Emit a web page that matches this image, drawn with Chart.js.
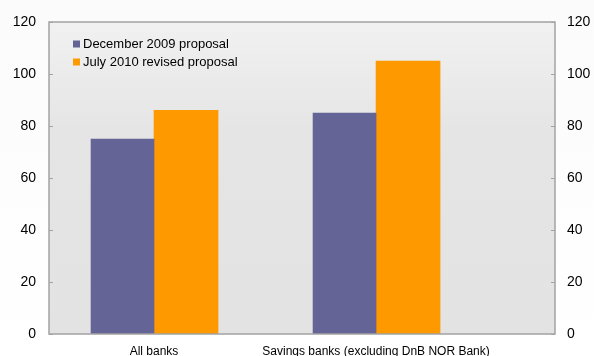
<!DOCTYPE html>
<html>
<head>
<meta charset="utf-8">
<script src="https://cdn.jsdelivr.net/npm/chart.js@4/dist/chart.umd.min.js"></script>
<style>
  html, body { margin: 0; padding: 0; background: #fafafa; }
  #wrap { width: 594px; height: 356px; position: relative; }
</style>
</head>
<body>
<div id="wrap"><canvas id="chart"></canvas></div>
<script>
// --- Data ---
const categories = ['All banks', 'Savings banks (excluding DnB NOR Bank)'];
const categoryPos = [1, 2];
const seriesNames = ['December 2009 proposal', 'July 2010 revised proposal'];
const dec2009 = [75, 85];
const jul2010 = [86, 105];
const yTicks = [0, 20, 40, 60, 80, 100, 120];

const PURPLE = '#646496';
const ORANGE = '#ff9900';
const FRAME = '#a3a3a3';

Chart.defaults.font.family = '"Liberation Sans", Arial, sans-serif';

// background, plot gradient, frame, inward tick marks and the in-plot legend
const framePlugin = {
    id: 'frame',
    beforeDraw(chart) {
        const { ctx, chartArea: a, width, height } = chart;
        ctx.save();
        const bg = ctx.createLinearGradient(0, 0, 0, height);
        bg.addColorStop(0, '#fbfbfb');
        bg.addColorStop(1, '#ffffff');
        ctx.fillStyle = bg;
        ctx.fillRect(0, 0, width, height);
        const pg = ctx.createLinearGradient(0, a.top, 0, a.bottom);
        pg.addColorStop(0, '#f1f1f1');
        pg.addColorStop(0.35, '#e5e5e5');
        pg.addColorStop(1, '#e3e3e3');
        ctx.fillStyle = pg;
        ctx.fillRect(a.left, a.top, a.right - a.left, a.bottom - a.top);
        ctx.restore();
    },
    afterDatasetsDraw(chart) {
        const { ctx, chartArea: a } = chart;
        const y = chart.scales.y;
        ctx.save();
        ctx.strokeStyle = FRAME;
        ctx.lineWidth = 1.5;
        ctx.strokeRect(a.left, a.top, a.right - a.left, a.bottom - a.top);
        ctx.lineWidth = 1;
        yTicks.forEach(v => {
            const py = Math.round(y.getPixelForValue(v)) + 0.5;
            ctx.beginPath();
            ctx.moveTo(a.left, py); ctx.lineTo(a.left + 4, py);
            ctx.moveTo(a.right - 4, py); ctx.lineTo(a.right, py);
            ctx.stroke();
        });
        // legend
        ctx.font = '13px "Liberation Sans", Arial, sans-serif';
        ctx.textBaseline = 'middle';
        chart.data.datasets.forEach((ds, i) => {
            const cy = a.top + 22 + i * 18;
            ctx.fillStyle = ds.backgroundColor;
            ctx.fillRect(a.left + 24, cy - 3.5, 7, 7);
            ctx.fillStyle = '#000';
            ctx.fillText(ds.label, a.left + 34, cy);
        });
        ctx.restore();
    }
};

const yAxis = (pos, width, pad) => ({
    type: 'linear',
    position: pos,
    min: 0, max: 120,
    afterBuildTicks: s => { s.ticks = yTicks.map(v => ({ value: v })); },
    afterFit: s => { s.width = width; },
    grid: { display: false },
    border: { display: false },
    ticks: { padding: pad, color: '#000', font: { size: 14 } }
});

new Chart(document.getElementById('chart'), {
    type: 'bar',
    data: {
        datasets: [
            { label: seriesNames[0], data: categoryPos.map((x, i) => ({ x, y: dec2009[i] })), backgroundColor: PURPLE, barThickness: 63 },
            { label: seriesNames[1], data: categoryPos.map((x, i) => ({ x, y: jul2010[i] })), backgroundColor: ORANGE, barThickness: 64 }
        ]
    },
    options: {
        responsive: true,
        maintainAspectRatio: false,
        animation: false,
        layout: { padding: { top: 22, left: 0, right: 0, bottom: 0 } },
        plugins: {
            legend: { display: false },
            tooltip: { enabled: false }
        },
        scales: {
            x: {
                type: 'linear',
                offset: false,
                min: 0.527, max: 2.806,
                afterBuildTicks: s => { s.ticks = categoryPos.map(v => ({ value: v })); },
                afterFit: s => { s.height = 22; },
                grid: { display: false },
                border: { display: false },
                ticks: {
                    padding: 2, color: '#000', font: { size: 12 }, maxRotation: 0,
                    callback: v => categories[categoryPos.indexOf(v)]
                }
            },
            y: yAxis('left', 49, 5),
            y2: yAxis('right', 39, 4)
        }
    },
    plugins: [framePlugin]
});
</script>
</body>
</html>
